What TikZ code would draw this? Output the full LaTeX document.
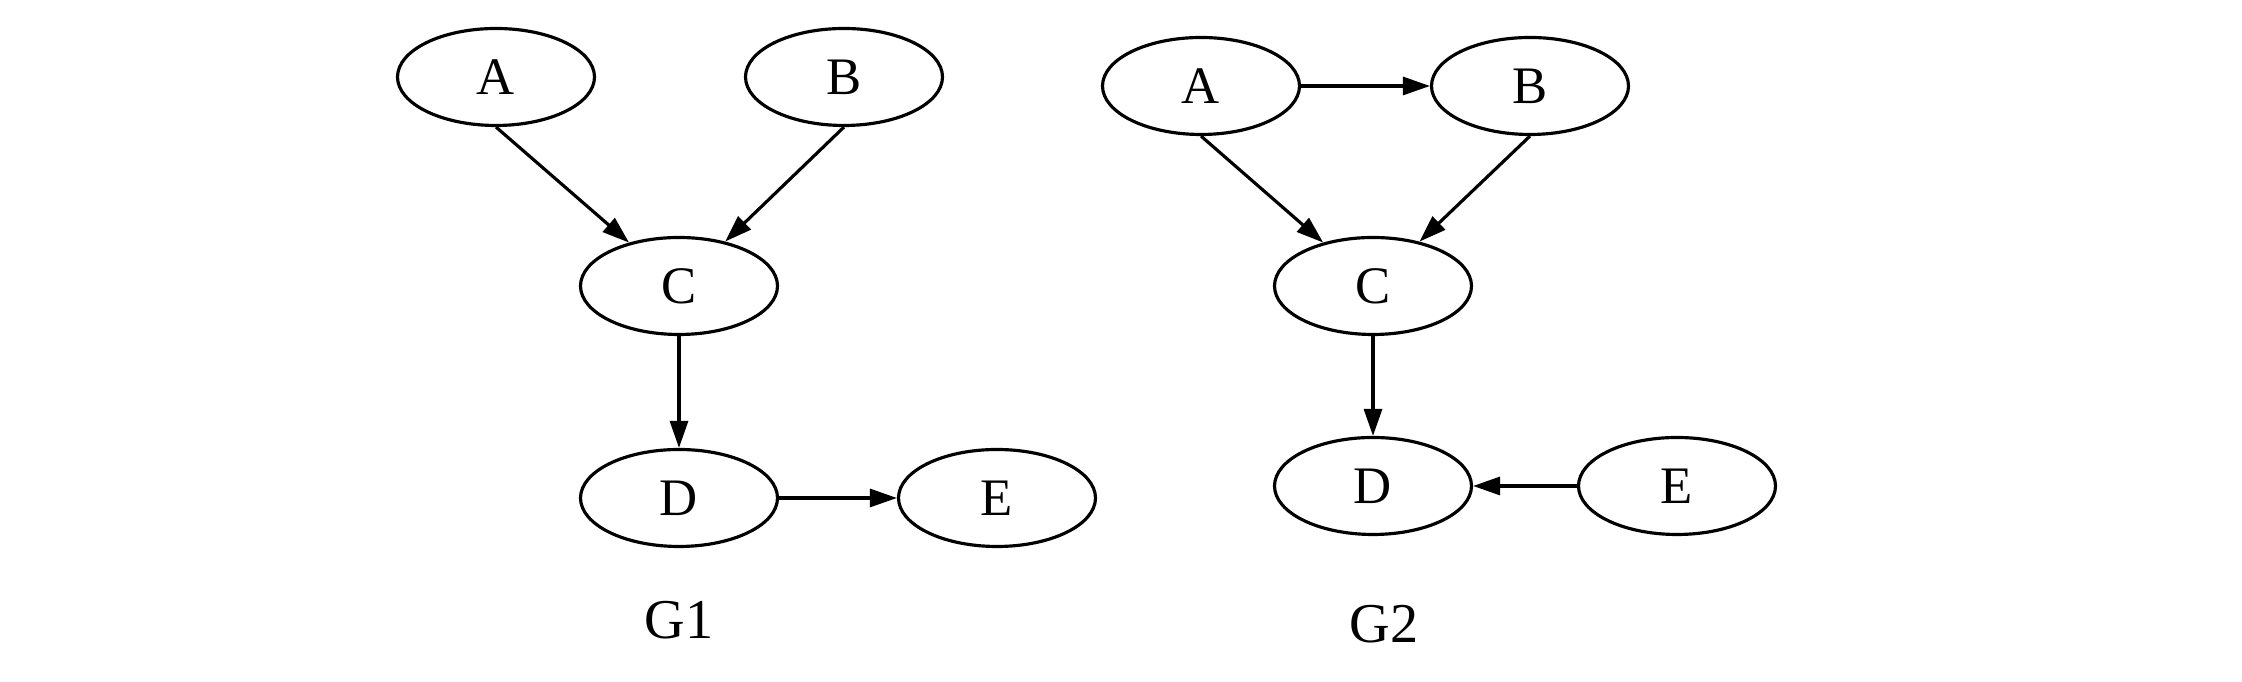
\documentclass[tikz,border=0pt]{standalone}
\usepackage{fontspec}
\setmainfont{Liberation Serif}
\usetikzlibrary{arrows.meta,shapes.geometric}

\begin{document}
\begin{tikzpicture}[
    var/.style={ellipse, draw, line width=0.9pt, minimum width=1.97cm, minimum height=0.97cm, inner sep=0pt, font=\fontsize{15}{18}\selectfont},
    edge/.style={-{Triangle[length=2.7mm,width=1.8mm]}, line width=0.9pt},
    caption/.style={font=\fontsize{16}{19}\selectfont}
  ]
    \useasboundingbox (0,0) rectangle (22.42,6.82);
    % G1
    \node[var] (a1) at (4.96,6.05) {A};
    \node[var] (b1) at (8.44,6.05) {B};
    \node[var] (c1) at (6.79,3.96) {C};
    \node[var] (d1) at (6.79,1.84) {D};
    \node[var] (e1) at (9.97,1.84) {E};
    \draw[edge] (a1.south) -- (c1);
    \draw[edge] (b1.south) -- (c1);
    \draw[edge] (c1) -- (d1);
    \draw[edge] (d1) -- (e1);
    \node[caption] (g1) at (6.79,0.62) {G1};
    % G2
    \node[var] (a2) at (12.01,5.96) {A};
    \node[var] (b2) at (15.30,5.96) {B};
    \node[var] (c2) at (13.73,3.96) {C};
    \node[var] (d2) at (13.73,1.96) {D};
    \node[var] (e2) at (16.77,1.96) {E};
    \draw[edge] (a2) -- (b2);
    \draw[edge] (a2.south) -- (c2);
    \draw[edge] (b2.south) -- (c2);
    \draw[edge] (c2) -- (d2);
    \draw[edge] (e2) -- (d2);
    \node[caption] (g2) at (13.84,0.58) {G2};
  \end{tikzpicture}
\end{document}
